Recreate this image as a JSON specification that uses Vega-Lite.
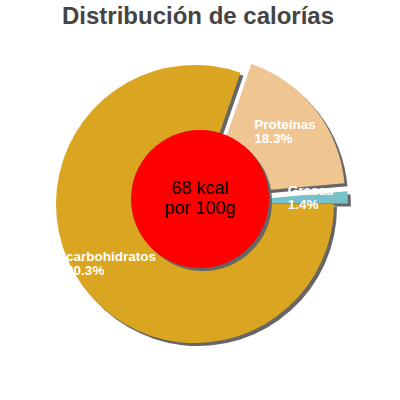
{
  "$schema": "https://vega.github.io/schema/vega-lite/v6.json",
  "autosize": {"type": "fit", "contains": "padding"},
  "width": 400,
  "height": 400,
  "padding": {"top": 5, "bottom": 25, "left": 0, "right": 10},
  "background": "white",
  "title": {
    "text": "Distribución de calorías",
    "font": "Liberation Sans",
    "fontSize": 24,
    "fontWeight": "bold",
    "color": "#444444",
    "anchor": "middle",
    "offset": 4,
    "dx": 3
  },
  "layer": [
    {
      "data": {
        "values": [
          {"name": "Grasas", "share": 0.014, "ord": 1},
          {"name": "Proteínas", "share": 0.183, "ord": 2},
          {"name": "carbohidratos", "share": 0.803, "ord": 3}
        ]
      },
      "encoding": {
        "theta": {
          "field": "share", "type": "quantitative", "stack": true,
          "scale": {"domain": [0, 1], "range": [1.5708, -4.7124]}
        },
        "order": {"field": "ord", "type": "quantitative"}
      },
      "layer": [
        {
          "mark": {"type": "arc", "radius": 139, "color": "#666666", "xOffset": 3, "yOffset": 3},
          "encoding": {"opacity": {"condition": {"test": "datum.name === 'carbohidratos'", "value": 1}, "value": 0}}
        },
        {
          "mark": {"type": "arc", "radius": 139, "color": "#666666", "xOffset": 14, "yOffset": -5.6},
          "encoding": {"opacity": {"condition": {"test": "datum.name === 'Proteínas'", "value": 1}, "value": 0}}
        },
        {
          "mark": {"type": "arc", "radius": 139, "color": "#666666", "xOffset": 16.9, "yOffset": 2.4},
          "encoding": {"opacity": {"condition": {"test": "datum.name === 'Grasas'", "value": 1}, "value": 0}}
        },
        {
          "mark": {"type": "arc", "radius": 139, "color": "#daa520"},
          "encoding": {"opacity": {"condition": {"test": "datum.name === 'carbohidratos'", "value": 1}, "value": 0}}
        },
        {
          "mark": {"type": "arc", "radius": 139, "color": "#efc592", "xOffset": 11, "yOffset": -8.6},
          "encoding": {"opacity": {"condition": {"test": "datum.name === 'Proteínas'", "value": 1}, "value": 0}}
        },
        {
          "mark": {"type": "arc", "radius": 139, "color": "#78c1c9", "xOffset": 13.9, "yOffset": -0.6},
          "encoding": {"opacity": {"condition": {"test": "datum.name === 'Grasas'", "value": 1}, "value": 0}}
        },
        {
          "mark": {"type": "text", "radius": 103, "align": "left", "baseline": "middle", "dx": -45, "dy": -7, "color": "white", "font": "Liberation Sans", "fontSize": 13.5, "fontWeight": "bold"},
          "encoding": {
            "text": {"field": "name"},
            "opacity": {"condition": {"test": "datum.name === 'carbohidratos'", "value": 1}, "value": 0}
          }
        },
        {
          "mark": {"type": "text", "radius": 103, "align": "left", "baseline": "middle", "dx": -45, "dy": 7, "color": "white", "font": "Liberation Sans", "fontSize": 13.5, "fontWeight": "bold"},
          "encoding": {
            "text": {"field": "share", "format": ".1%"},
            "opacity": {"condition": {"test": "datum.name === 'carbohidratos'", "value": 1}, "value": 0}
          }
        },
        {
          "mark": {"type": "text", "radius": 103, "align": "left", "baseline": "middle", "dx": -33, "dy": -7, "xOffset": 11, "yOffset": -8.6, "color": "white", "font": "Liberation Sans", "fontSize": 13.5, "fontWeight": "bold"},
          "encoding": {
            "text": {"field": "name"},
            "opacity": {"condition": {"test": "datum.name === 'Proteínas'", "value": 1}, "value": 0}
          }
        },
        {
          "mark": {"type": "text", "radius": 103, "align": "left", "baseline": "middle", "dx": -33, "dy": 7, "xOffset": 11, "yOffset": -8.6, "color": "white", "font": "Liberation Sans", "fontSize": 13.5, "fontWeight": "bold"},
          "encoding": {
            "text": {"field": "share", "format": ".1%"},
            "opacity": {"condition": {"test": "datum.name === 'Proteínas'", "value": 1}, "value": 0}
          }
        },
        {
          "mark": {"type": "text", "radius": 101, "align": "left", "baseline": "middle", "dx": -22, "dy": -8, "xOffset": 13.9, "yOffset": -0.6, "color": "white", "font": "Liberation Sans", "fontSize": 13.5, "fontWeight": "bold"},
          "encoding": {
            "text": {"field": "name"},
            "opacity": {"condition": {"test": "datum.name === 'Grasas'", "value": 1}, "value": 0}
          }
        },
        {
          "mark": {"type": "text", "radius": 101, "align": "left", "baseline": "middle", "dx": -22, "dy": 6, "xOffset": 13.9, "yOffset": -0.6, "color": "white", "font": "Liberation Sans", "fontSize": 13.5, "fontWeight": "bold"},
          "encoding": {
            "text": {"field": "share", "format": ".1%"},
            "opacity": {"condition": {"test": "datum.name === 'Grasas'", "value": 1}, "value": 0}
          }
        }
      ]
    },
    {
      "data": {"values": [{"energy": "68 kcal", "basis": "por 100g"}]},
      "layer": [
        {"mark": {"type": "point", "shape": "circle", "filled": true, "size": 19044, "color": "#666666", "opacity": 1, "xOffset": 8, "yOffset": -2}},
        {"mark": {"type": "point", "shape": "circle", "filled": true, "size": 19044, "color": "#ff0000", "opacity": 1, "xOffset": 5, "yOffset": -5}},
        {
          "mark": {"type": "text", "font": "Liberation Sans", "fontSize": 18, "color": "black", "baseline": "middle", "xOffset": 5, "yOffset": -5, "dy": -10},
          "encoding": {"text": {"field": "energy"}}
        },
        {
          "mark": {"type": "text", "font": "Liberation Sans", "fontSize": 18, "color": "black", "baseline": "middle", "xOffset": 5, "yOffset": -5, "dy": 10},
          "encoding": {"text": {"field": "basis"}}
        }
      ]
    }
  ],
  "config": {"view": {"stroke": null}}
}
